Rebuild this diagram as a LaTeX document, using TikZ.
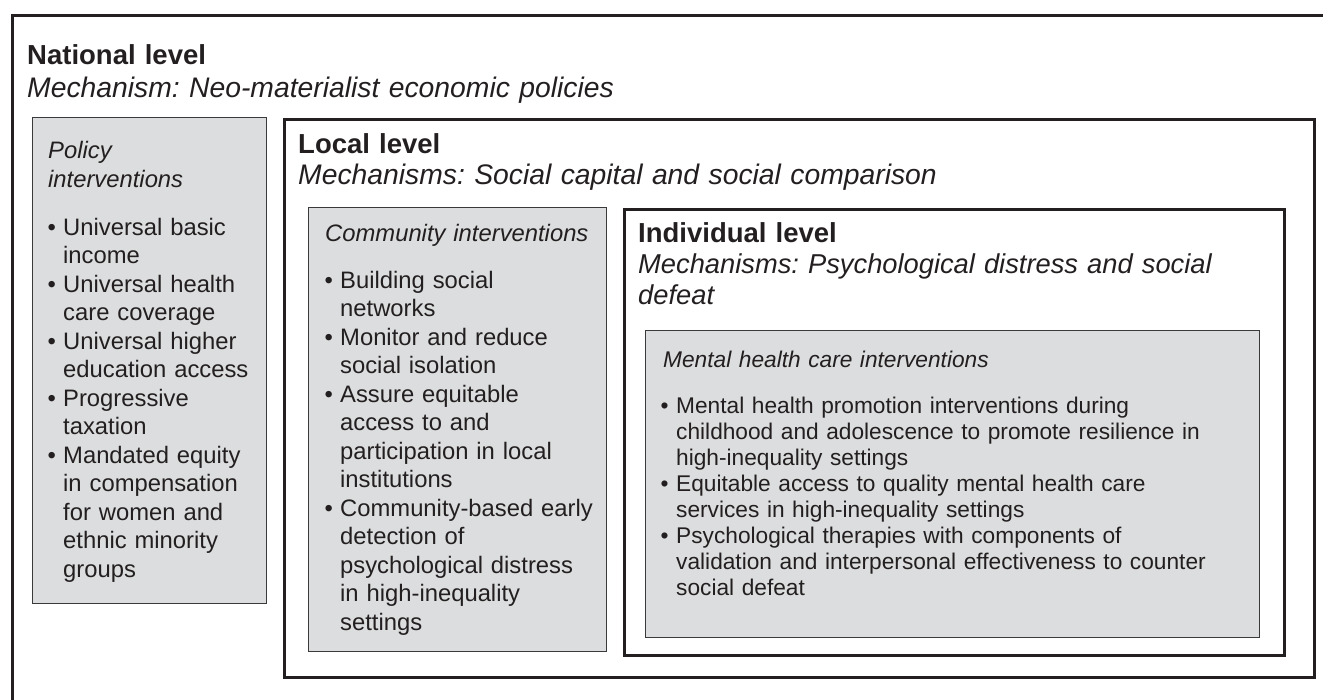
\documentclass[tikz,border=0pt]{standalone}
\usepackage{fontspec}
\setmainfont{Liberation Sans}
\usepackage{tikz}
\usetikzlibrary{positioning}
\frenchspacing
\definecolor{ink}{HTML}{231F20}
\definecolor{boxgray}{HTML}{DCDDDE}
\definecolor{edgegray}{HTML}{3A3A3A}
% bullet and hanging indent for the lists
\newcommand{\bl}{\makebox[13pt][l]{\kern-2.5pt\textbullet}}
\newcommand{\ct}{\hspace*{13pt}}

\begin{document}
\begin{tikzpicture}[
  x=1pt, y=-1pt,
  levelbox/.style={draw=ink, line width=3pt, anchor=north west, inner sep=0pt},
  actbox/.style={draw=edgegray, fill=boxgray, line width=1.4pt, anchor=north west, inner sep=0pt},
  txt/.style={anchor=base west, inner sep=0pt, text=ink, align=left, text width=#1},
  txt/.default=640pt,
  head/.style={txt, font=\fontsize{27.5}{31}\selectfont\bfseries},
  mech/.style={txt, font=\fontsize{28.3}{31}\selectfont\itshape},
  acttitle/.style={txt, font=\fontsize{23.8}{29}\selectfont\itshape},
  actlist/.style={txt, font=\fontsize{23.8}{28.5}\selectfont},
  mhtitle/.style={txt, font=\fontsize{22.7}{26}\selectfont\itshape},
  mhlist/.style={txt, font=\fontsize{22.7}{26}\selectfont}
]
  \useasboundingbox (0,0) rectangle (1323,699);
  \clip (0,0) rectangle (1323,699);

  % national level
  \node[levelbox, minimum width=1340pt, minimum height=720pt] (national) at (11,13.5) {};
  \node[head] (natlhead) at (27,64) {National level};
  \node[mech] (natlmech) at (27,97) {Mechanism: Neo-materialist economic policies};

  \node[actbox, minimum width=234pt, minimum height=486pt] (policy) at (32,117) {};
  \node[acttitle] (policytitle) at (48,158) {Policy\\interventions};
  \node[actlist] (policylist) at (50,235)
    {\bl Universal basic\\ \ct income\\
     \bl Universal health\\ \ct care coverage\\
     \bl Universal higher\\ \ct education access\\
     \bl Progressive\\ \ct taxation\\
     \bl Mandated equity\\ \ct in compensation\\ \ct for women and\\
     \ct ethnic minority\\ \ct groups};

  % local level
  \node[levelbox, minimum width=1030pt, minimum height=558pt] (local) at (283,118) {};
  \node[head] (localhead) at (298,153) {Local level};
  \node[mech] (localmech) at (298,184) {Mechanisms: Social capital and social comparison};

  \node[actbox, minimum width=298pt, minimum height=444pt] (community) at (308,207) {};
  \node[acttitle] (communitytitle) at (325,241) {Community interventions};
  \node[actlist] (communitylist) at (327,288)
    {\bl Building social\\ \ct networks\\
     \bl Monitor and reduce\\ \ct social isolation\\
     \bl Assure equitable\\ \ct access to and\\ \ct participation in local\\ \ct institutions\\
     \bl Community-based early\\ \ct detection of\\ \ct psychological distress\\
     \ct in high-inequality\\ \ct settings};

  % individual level
  \node[levelbox, minimum width=660pt, minimum height=446pt] (individual) at (623,208) {};
  \node[head] (indivhead) at (638,242) {Individual level};
  \node[mech, font=\fontsize{27.3}{31}\selectfont\itshape] (indivmech) at (638,273)
    {Mechanisms: Psychological distress and social\\defeat};

  \node[actbox, minimum width=614pt, minimum height=307pt] (mental) at (645,330) {};
  \node[mhtitle] (mentaltitle) at (663,367) {Mental health care interventions};
  \node[mhlist] (mentallist) at (663,413)
    {\bl Mental health promotion interventions during\\
     \ct childhood and adolescence to promote resilience in\\
     \ct high-inequality settings\\
     \bl Equitable access to quality mental health care\\
     \ct services in high-inequality settings\\
     \bl Psychological therapies with components of\\
     \ct validation and interpersonal effectiveness to counter\\
     \ct social defeat};
\end{tikzpicture}
\end{document}
